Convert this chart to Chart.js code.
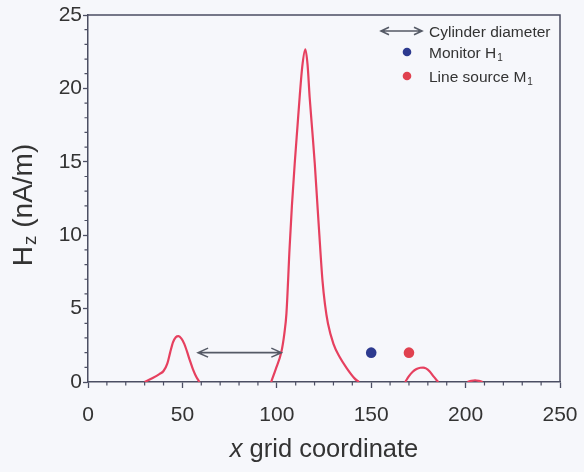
<!DOCTYPE html>
<html>
<head>
<meta charset="utf-8">
<script src="https://cdn.jsdelivr.net/npm/chart.js@4.4.0/dist/chart.umd.min.js"></script>
<style>
  html, body { margin: 0; padding: 0; background: #f6f7fb; }
  #hz-chart { display: block; }
</style>
</head>
<body>
<canvas id="hz-chart" width="584" height="472"></canvas>
<script>
// ── DATA ──────────────────────────────────────────
// left peak (x ≈ 48)
const peakAX  = [30, 34, 38, 40, 42, 43.5, 45, 46.5, 48, 49.5, 51, 52.5, 54, 55.5, 57, 59];
const peakAHz = [0, 0.25, 0.55, 0.75, 1.25, 2.0, 2.7, 3.05, 3.12, 2.95, 2.6, 2.05, 1.45, 0.9, 0.45, 0];

// main peak (x ≈ 115)
const peakBX  = [97, 99.5, 102.4, 104, 105.1, 106.8, 108, 109.5, 111, 112.1, 113.5, 115.1, 116.3,
                 117.4, 118.8, 120.1, 121.3, 122.4, 124.2, 125.5, 127.1, 130, 133.3, 137, 141.3, 143.5];
const peakBHz = [0, 0.9, 2.04, 3.3, 4.66, 9.2, 12.0, 14.9, 17.5, 19.4, 21.5, 22.66, 21.6,
                 19.4, 17.1, 14.9, 12.5, 10.3, 6.9, 5.3, 3.98, 2.6, 1.7, 0.95, 0.23, 0];

// small bump (x ≈ 177)
const peakCX  = [168, 170, 172, 174, 176, 177.5, 179, 181, 183, 185.5];
const peakCHz = [0, 0.4, 0.7, 0.88, 0.97, 0.98, 0.93, 0.72, 0.38, 0];

// faint tail (x ≈ 205)
const peakDX  = [201, 203, 205, 207, 209];
const peakDHz = [0, 0.08, 0.12, 0.08, 0];

// markers
const monitorPoint = { x: 150, y: 2 };
const sourcePoint  = { x: 170, y: 2 };

// cylinder diameter arrow
const cylinderX = [58.3, 102.4];
const cylinderY = 2;

// axes
const xMajorTicks = [0, 50, 100, 150, 200, 250];
const yMajorTicks = [0, 5, 10, 15, 20, 25];

// ── STYLE ─────────────────────────────────────────
const FONT      = "'Liberation Sans', Arial, sans-serif";
const AXIS      = '#4b4e63';
const TEXT      = '#333333';
const CURVE     = '#e6405f';
const BLUE      = '#2d3a8f';
const RED       = '#e0414f';
const ARROW     = '#555a66';

function pts(xs, ys) {
  return xs.map((x, i) => ({ x, y: ys[i] }));
}

function curveDataset(xs, ys) {
  return {
    type: 'line',
    data: pts(xs, ys),
    borderColor: CURVE,
    borderWidth: 2.2,
    pointRadius: 0,
    cubicInterpolationMode: 'monotone',
    fill: false,
  };
}

function markerDataset(p, color) {
  return {
    type: 'scatter',
    data: [p],
    backgroundColor: color,
    borderColor: color,
    pointRadius: 5.3,
    borderWidth: 0,
  };
}

// ── DRAW HELPERS ──────────────────────────────────
function drawArrow(ctx, x0, x1, yy, head, half) {
  ctx.beginPath();
  ctx.moveTo(x0, yy); ctx.lineTo(x1, yy);
  ctx.moveTo(x0 + head, yy - half); ctx.lineTo(x0, yy); ctx.lineTo(x0 + head, yy + half);
  ctx.moveTo(x1 - head, yy - half); ctx.lineTo(x1, yy); ctx.lineTo(x1 - head, yy + half);
  ctx.stroke();
}

function drawSubText(ctx, x, yy, main, sub, size, subSize, drop) {
  ctx.font = `${size}px ${FONT}`;
  ctx.fillText(main, x, yy);
  const w = ctx.measureText(main).width;
  ctx.font = `${subSize}px ${FONT}`;
  ctx.fillText(sub, x + w + 1, yy + drop);
}

// ── PLUGINS ───────────────────────────────────────
const background = {
  id: 'background',
  beforeDraw(chart) {
    const { ctx, width, height } = chart;
    ctx.save();
    ctx.fillStyle = '#f6f7fb';
    ctx.fillRect(0, 0, width, height);
    ctx.restore();
  },
};

const decor = {
  id: 'decor',
  afterDraw(chart) {
    const { ctx, chartArea: a, scales: { x, y } } = chart;
    ctx.save();

    // frame top + right
    ctx.strokeStyle = AXIS;
    ctx.lineWidth = 1.5;
    ctx.beginPath();
    ctx.moveTo(a.left, a.top);
    ctx.lineTo(a.right, a.top);
    ctx.lineTo(a.right, a.bottom);
    ctx.stroke();

    // minor ticks
    ctx.lineWidth = 1.2;
    ctx.beginPath();
    for (let v = x.min; v <= x.max; v += 10) {
      if (v % 50 === 0) continue;
      const px = x.getPixelForValue(v);
      ctx.moveTo(px, a.bottom); ctx.lineTo(px, a.bottom + 3.5);
    }
    for (let v = y.min; v <= y.max; v += 1) {
      if (v % 5 === 0) continue;
      const py = y.getPixelForValue(v);
      ctx.moveTo(a.left, py); ctx.lineTo(a.left - 3.5, py);
    }
    ctx.stroke();

    // cylinder arrow in plot
    ctx.strokeStyle = ARROW;
    ctx.lineWidth = 1.6;
    drawArrow(ctx, x.getPixelForValue(cylinderX[0]), x.getPixelForValue(cylinderX[1]),
      y.getPixelForValue(cylinderY), 10, 4.5);

    // legend
    const lx = 381, tx = 429;
    drawArrow(ctx, lx, lx + 41, 31, 8, 3.8);
    ctx.fillStyle = BLUE;
    ctx.beginPath(); ctx.arc(407, 52, 4.3, 0, Math.PI * 2); ctx.fill();
    ctx.fillStyle = RED;
    ctx.beginPath(); ctx.arc(407, 76, 4.3, 0, Math.PI * 2); ctx.fill();

    ctx.fillStyle = TEXT;
    ctx.textAlign = 'left';
    ctx.textBaseline = 'alphabetic';
    ctx.font = `15.5px ${FONT}`;
    ctx.fillText('Cylinder diameter', tx, 37);
    drawSubText(ctx, tx, 58, 'Monitor H', '1', 15.5, 10, 3);
    drawSubText(ctx, tx, 82, 'Line source M', '1', 15.5, 10, 3);

    // x title
    ctx.font = `italic 25.5px ${FONT}`;
    const xPart = 'x';
    const rest = ' grid coordinate';
    const w1 = ctx.measureText(xPart).width;
    ctx.font = `25.5px ${FONT}`;
    const w2 = ctx.measureText(rest).width;
    const cx = (a.left + a.right) / 2;
    const sx = cx - (w1 + w2) / 2;
    ctx.font = `italic 25.5px ${FONT}`;
    ctx.fillText(xPart, sx, 457);
    ctx.font = `25.5px ${FONT}`;
    ctx.fillText(rest, sx + w1, 457);

    // y title
    ctx.translate(32, 205);
    ctx.rotate(-Math.PI / 2);
    ctx.font = `28px ${FONT}`;
    const hW = ctx.measureText('H').width;
    const tail = ' (nA/m)';
    const tW = ctx.measureText(tail).width;
    ctx.font = `19px ${FONT}`;
    const zW = ctx.measureText('z').width;
    const total = hW + zW + 1 + tW;
    const ox = -total / 2;
    ctx.font = `28px ${FONT}`;
    ctx.fillText('H', ox, 0);
    ctx.font = `19px ${FONT}`;
    ctx.fillText('z', ox + hW + 1, 4);
    ctx.font = `28px ${FONT}`;
    ctx.fillText(tail, ox + hW + zW + 1, 0);

    ctx.restore();
  },
};

// ── CHART ─────────────────────────────────────────
const tickFont = { family: FONT, size: 21 };

new Chart(document.getElementById('hz-chart'), {
  data: {
    datasets: [
      curveDataset(peakAX, peakAHz),
      curveDataset(peakBX, peakBHz),
      curveDataset(peakCX, peakCHz),
      curveDataset(peakDX, peakDHz),
      markerDataset(monitorPoint, BLUE),
      markerDataset(sourcePoint, RED),
    ],
  },
  options: {
    responsive: false,
    animation: false,
    devicePixelRatio: 1,
    layout: { padding: { top: 15, right: 24, left: 0, bottom: 0 } },
    plugins: {
      legend: { display: false },
      tooltip: { enabled: false },
    },
    scales: {
      x: {
        type: 'linear',
        min: xMajorTicks[0],
        max: xMajorTicks[xMajorTicks.length - 1],
        afterBuildTicks: s => { s.ticks = xMajorTicks.map(v => ({ value: v })); },
        afterFit: s => { s.height = 90; s.paddingLeft = 0; s.paddingRight = 0; },
        border: { color: AXIS, width: 1.5 },
        grid: { drawOnChartArea: false, drawTicks: true, tickLength: 6, tickColor: AXIS, tickWidth: 1.3 },
        ticks: { color: TEXT, font: tickFont, padding: 15, maxRotation: 0 },
      },
      y: {
        type: 'linear',
        min: yMajorTicks[0],
        max: yMajorTicks[yMajorTicks.length - 1],
        afterBuildTicks: s => { s.ticks = yMajorTicks.map(v => ({ value: v })); },
        afterFit: s => { s.width = 88; s.paddingTop = 0; s.paddingBottom = 0; },
        border: { color: AXIS, width: 1.5 },
        grid: { drawOnChartArea: false, drawTicks: true, tickLength: 5, tickColor: AXIS, tickWidth: 1.3 },
        ticks: { color: TEXT, font: tickFont, padding: 1 },
      },
    },
  },
  plugins: [background, decor],
});
</script>
</body>
</html>
